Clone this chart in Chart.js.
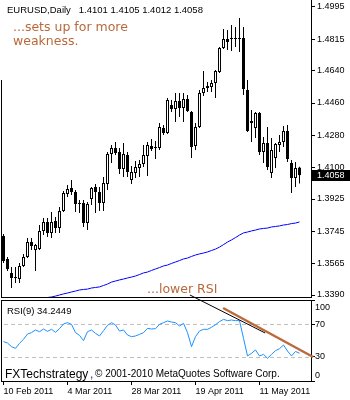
<!DOCTYPE html>
<html>
<head>
<meta charset="utf-8">
<script src="https://cdn.jsdelivr.net/npm/chart.js@4.4.0/dist/chart.umd.min.js"></script>
<style>
  body { margin: 0; background: #fff; width: 350px; height: 400px; overflow: hidden; position: relative; }
  canvas { position: absolute; left: 0; }
  #rsiChart { top: 285px; }
  #priceChart { top: 0; }
</style>
</head>
<body>
<canvas id="rsiChart" width="350" height="115"></canvas>
<canvas id="priceChart" width="350" height="298"></canvas>
<script>
// Chart data (EURUSD daily, 10 Feb 2011 - 25 May 2011)
const symbol = 'EURUSD';
const period = 'Daily';
const rsiPeriod = 9;
const dateLabels = ['10 Feb 2011', '4 Mar 2011', '28 Mar 2011', '19 Apr 2011', '11 May 2011'];
const dateTicks = [0, 16, 32, 48, 64];
const priceTicks = [1.4995, 1.4815, 1.4640, 1.4460, 1.4280, 1.4100, 1.3925, 1.3745, 1.3565, 1.3390];
const rsiTicks = [100, 70, 30, 0];
const rsiLevels = [70, 30];

const opens = [
  1.3719, 1.3591, 1.3513, 1.3485, 1.3479, 1.3552, 1.3602, 1.3685, 1.3641, 1.3646,
  1.3747, 1.3797, 1.3736, 1.3802, 1.3763, 1.3858, 1.3953, 1.3986, 1.3964, 1.3903,
  1.3903, 1.3791, 1.3925, 1.3992, 1.3964, 1.3903, 1.4009, 1.4176, 1.4209, 1.4187,
  1.4092, 1.4170, 1.4031, 1.4070, 1.4098, 1.4120, 1.4165, 1.4220, 1.4209, 1.4209,
  1.4321, 1.4293, 1.4449, 1.4427, 1.4471, 1.4432, 1.4482, 1.4410, 1.4220, 1.4326,
  1.4516, 1.4544, 1.4549, 1.4571, 1.4633, 1.4767, 1.4817, 1.4817, 1.4822, 1.4822,
  1.4822, 1.4532, 1.4360, 1.4321, 1.4404, 1.4187, 1.4237, 1.4070, 1.4153, 1.4226,
  1.4243, 1.4304, 1.4126, 1.4042, 1.4101
];
const highs = [
  1.3730, 1.3602, 1.3546, 1.3546, 1.3568, 1.3619, 1.3708, 1.3708, 1.3674, 1.3780,
  1.3819, 1.3819, 1.3853, 1.3825, 1.3880, 1.3970, 1.4003, 1.4031, 1.3975, 1.3919,
  1.3919, 1.3908, 1.3992, 1.4009, 1.3992, 1.4048, 1.4187, 1.4226, 1.4243, 1.4209,
  1.4237, 1.4187, 1.4109, 1.4137, 1.4142, 1.4226, 1.4243, 1.4259, 1.4248, 1.4349,
  1.4337, 1.4488, 1.4477, 1.4516, 1.4516, 1.4516, 1.4505, 1.4415, 1.4349, 1.4532,
  1.4638, 1.4577, 1.4588, 1.4644, 1.4772, 1.4872, 1.4867, 1.4895, 1.4884, 1.4934,
  1.4884, 1.4588, 1.4421, 1.4410, 1.4410, 1.4271, 1.4326, 1.4265, 1.4237, 1.4282,
  1.4332, 1.4337, 1.4142, 1.4131, 1.4105
];
const lows = [
  1.3568, 1.3524, 1.3429, 1.3457, 1.3457, 1.3546, 1.3596, 1.3641, 1.3524, 1.3641,
  1.3724, 1.3713, 1.3708, 1.3736, 1.3736, 1.3853, 1.3936, 1.3947, 1.3853, 1.3847,
  1.3769, 1.3752, 1.3892, 1.3847, 1.3858, 1.3858, 1.3975, 1.4126, 1.4170, 1.4064,
  1.4048, 1.4048, 1.4009, 1.4042, 1.4048, 1.4103, 1.4053, 1.4192, 1.4148, 1.4198,
  1.4282, 1.4287, 1.4410, 1.4354, 1.4382, 1.4354, 1.4410, 1.4153, 1.4198, 1.4321,
  1.4499, 1.4521, 1.4521, 1.4488, 1.4627, 1.4761, 1.4755, 1.4750, 1.4772, 1.4744,
  1.4505, 1.4298, 1.4243, 1.4265, 1.4170, 1.4126, 1.4087, 1.4042, 1.4098, 1.4187,
  1.4215, 1.4131, 1.3958, 1.3992, 1.4012
];
const closes = [
  1.3579, 1.3535, 1.3485, 1.3490, 1.3552, 1.3602, 1.3685, 1.3663, 1.3669, 1.3747,
  1.3797, 1.3736, 1.3797, 1.3763, 1.3858, 1.3958, 1.3981, 1.3964, 1.3897, 1.3897,
  1.3791, 1.3897, 1.3986, 1.3964, 1.3903, 1.4014, 1.4176, 1.4209, 1.4181, 1.4092,
  1.4176, 1.4075, 1.4075, 1.4103, 1.4120, 1.4170, 1.4226, 1.4204, 1.4209, 1.4326,
  1.4293, 1.4477, 1.4427, 1.4471, 1.4432, 1.4482, 1.4415, 1.4215, 1.4326, 1.4516,
  1.4544, 1.4555, 1.4571, 1.4638, 1.4767, 1.4817, 1.4800, 1.4817, 1.4817, 1.4817,
  1.4538, 1.4304, 1.4349, 1.4404, 1.4187, 1.4237, 1.4103, 1.4198, 1.4232, 1.4243,
  1.4304, 1.4148, 1.4042, 1.4098, 1.4058
];
// moving average (blue), only visible from the 9th bar on
const ma = [
  null, null, null, null, null, null, null, null,
  1.3368, 1.3373, 1.3373, 1.3376, 1.3379, 1.3384, 1.3390, 1.3396, 1.3401, 1.3407,
  1.3412, 1.3418, 1.3421, 1.3423, 1.3429, 1.3432, 1.3435, 1.3443, 1.3451, 1.3462,
  1.3468, 1.3474, 1.3479, 1.3485, 1.3490, 1.3496, 1.3504, 1.3513, 1.3518, 1.3527,
  1.3535, 1.3543, 1.3552, 1.3557, 1.3566, 1.3574, 1.3582, 1.3591, 1.3596, 1.3605,
  1.3613, 1.3619, 1.3624, 1.3630, 1.3638, 1.3646, 1.3657, 1.3671, 1.3685, 1.3697,
  1.3710, 1.3724, 1.3736, 1.3741, 1.3747, 1.3752, 1.3758, 1.3761, 1.3763, 1.3769,
  1.3772, 1.3775, 1.3780, 1.3783, 1.3788, 1.3791, 1.3797
];
const rsi = [
  48.6, 46.9, 42.4, 40.3, 46.5, 51.4, 58.0, 59.7, 63.0, 60.9,
  64.2, 61.3, 63.8, 60.1, 64.6, 70.4, 72.0, 70.0, 59.7, 56.4,
  49.8, 60.9, 63.0, 58.8, 55.6, 62.1, 68.7, 72.0, 69.1, 61.7,
  63.0, 56.8, 54.7, 55.6, 57.6, 59.7, 65.0, 64.2, 64.6, 70.0,
  72.0, 74.1, 72.8, 72.0, 67.9, 71.2, 59.7, 42.4, 54.7, 61.7,
  63.8, 63.8, 66.3, 69.5, 73.3, 76.1, 74.5, 75.3, 74.5, 74.5,
  52.7, 30.9, 34.2, 38.3, 30.9, 32.9, 28.0, 32.9, 37.4, 39.9,
  44.4, 37.0, 30.9, 36.5, 34.2449
];
// hand drawn trend lines on the RSI window: [bar index, RSI value]
const trendBlack = [[46.6, 106.2], [65.4, 59.3]];
const trendBrown = [[54.9, 90.1], [77.4, 29.6]];
const notesTop = ['...sets up for more', 'weakness.'];
const noteRsi = '...lower RSI';

// axis ranges
const xMin = -0.625, xMax = 76.875;
const priceMin = 1.33789, priceMax = 1.5034;

const axisFont = { family: 'Liberation Sans', size: 9 };
const noteColor = '#b8683a';
const last = closes.length - 1;
const idx = closes.map((c, i) => i);
const bodyColors = closes.map((c, i) => c >= opens[i] ? '#ffffff' : '#000000');

Chart.defaults.font.family = 'Liberation Sans';
Chart.defaults.color = '#000';

// frame, last price box and texts for the price window
const priceOverlay = {
  id: 'priceOverlay',
  afterDraw(chart) {
    const { ctx, chartArea: a, scales: { y } } = chart;
    ctx.save();
    ctx.strokeStyle = '#000';
    ctx.lineWidth = 1;
    ctx.beginPath();
    ctx.moveTo(a.left + 0.5, 80);
    ctx.lineTo(a.left + 0.5, a.bottom + 1);
    ctx.moveTo(a.left, a.bottom + 0.5);
    ctx.lineTo(a.right, a.bottom + 0.5);
    ctx.stroke();

    const py = Math.round(y.getPixelForValue(closes[last]));
    ctx.fillStyle = '#000';
    ctx.fillRect(a.right + 1, py - 5, 39, 11);
    ctx.font = '9px "Liberation Sans"';
    ctx.textBaseline = 'middle';
    ctx.fillStyle = '#fff';
    ctx.fillText(closes[last].toFixed(4), a.right + 6, py + 0.5);

    ctx.fillStyle = '#000';
    ctx.font = '9.5px "Liberation Sans"';
    const ohlc = [opens[last], highs[last], lows[last], closes[last]].map(v => v.toFixed(4)).join(' ');
    ctx.fillText(symbol + ',' + period + '   ' + ohlc, 7, 10.5);

    ctx.fillStyle = noteColor;
    ctx.font = '12.5px "DejaVu Sans"';
    ctx.textBaseline = 'alphabetic';
    ctx.fillText(notesTop[0], 13, 30.5);
    ctx.fillText(notesTop[1], 13, 44.5);
    ctx.fillText(noteRsi, 147, 292.5);
    ctx.restore();
  }
};

// frame, levels, labels and trend lines for the RSI window
const rsiOverlay = {
  id: 'rsiOverlay',
  beforeDatasetsDraw(chart) {
    const { ctx, chartArea: a, scales: { y } } = chart;
    ctx.save();
    ctx.strokeStyle = '#c0c0c0';
    ctx.lineWidth = 1;
    ctx.setLineDash([4, 3]);
    rsiLevels.forEach(v => {
      const py = Math.round(y.getPixelForValue(v)) + 0.5;
      ctx.beginPath();
      ctx.moveTo(a.left + 3, py);
      ctx.lineTo(a.right, py);
      ctx.stroke();
    });
    ctx.restore();
  },
  afterDraw(chart) {
    const { ctx, chartArea: a, scales: { x, y } } = chart;
    ctx.save();
    ctx.strokeStyle = '#000';
    ctx.lineWidth = 1;
    ctx.beginPath();
    ctx.moveTo(a.left, a.top + 0.5);
    ctx.lineTo(a.right, a.top + 0.5);
    ctx.moveTo(a.left + 0.5, a.top);
    ctx.lineTo(a.left + 0.5, a.bottom);
    ctx.stroke();

    ctx.font = '9px "Liberation Sans"';
    ctx.textBaseline = 'middle';
    ctx.fillStyle = '#000';
    rsiTicks.forEach(v => {
      const py = Math.min(Math.max(y.getPixelForValue(v), a.top + 8), a.bottom - 5);
      ctx.fillText(String(v), a.right + 4, py);
    });
    ctx.font = '9.5px "Liberation Sans"';
    ctx.fillText('RSI(' + rsiPeriod + ') ' + rsi[last].toFixed(4), 7, a.top + 11);

    ctx.textBaseline = 'alphabetic';
    ctx.font = '12px "Liberation Sans"';
    ctx.fillText('FXTechstrategy', 5, a.bottom - 3.5);
    ctx.fillStyle = '#2040a0';
    ctx.fillText(',', 90, a.bottom - 3.5);
    ctx.fillStyle = '#000';
    ctx.font = '10px "Liberation Sans"';
    ctx.fillText('\u00a9 2001-2010 MetaQuotes Software Corp.', 95, a.bottom - 4);

    const drawTrend = (pts, color, width) => {
      ctx.strokeStyle = color;
      ctx.lineWidth = width;
      ctx.beginPath();
      ctx.moveTo(x.getPixelForValue(pts[0][0]), y.getPixelForValue(pts[0][1]));
      ctx.lineTo(x.getPixelForValue(pts[1][0]), y.getPixelForValue(pts[1][1]));
      ctx.stroke();
    };
    drawTrend(trendBlack, '#000', 1);
    drawTrend(trendBrown, '#bb6a3c', 2.5);
    ctx.restore();
  }
};

new Chart(document.getElementById('priceChart'), {
  type: 'bar',
  data: {
    datasets: [
      {
        data: idx.map(i => ({ x: i, y: [opens[i], closes[i]] })),
        backgroundColor: bodyColors,
        borderColor: '#000',
        borderWidth: 1,
        borderSkipped: false,
        barThickness: 3,
        minBarLength: 1,
        inflateAmount: 0,
        grouped: false,
        order: 0
      },
      {
        data: idx.map(i => ({ x: i, y: [lows[i], highs[i]] })),
        backgroundColor: '#000',
        borderWidth: 0,
        barThickness: 1,
        inflateAmount: 0,
        grouped: false,
        order: 1
      },
      {
        type: 'line',
        data: ma.map((v, i) => ({ x: i, y: v })),
        borderColor: '#0000ff',
        borderWidth: 1,
        pointRadius: 0,
        tension: 0,
        order: 2
      }
    ]
  },
  options: {
    responsive: false,
    animation: false,
    events: [],
    layout: { padding: { left: 1, right: 0, top: 0, bottom: 1 } },
    plugins: { legend: { display: false }, tooltip: { enabled: false } },
    scales: {
      x: { type: 'linear', min: xMin, max: xMax, offset: false, display: false },
      y: {
        position: 'right',
        min: priceMin,
        max: priceMax,
        afterBuildTicks: s => { s.ticks = priceTicks.map(v => ({ value: v })); },
        afterFit: s => { s.width = 39; s.paddingTop = 0; s.paddingBottom = 0; },
        ticks: { callback: v => v.toFixed(4), autoSkip: false, padding: 2, color: '#000', font: axisFont },
        grid: { drawOnChartArea: false, tickLength: 4, color: '#000' },
        border: { color: '#000' }
      }
    }
  },
  plugins: [priceOverlay]
});

new Chart(document.getElementById('rsiChart'), {
  type: 'line',
  data: {
    datasets: [{
      data: rsi.map((v, i) => ({ x: i, y: v })),
      borderColor: '#1e90ff',
      borderWidth: 1,
      pointRadius: 0,
      tension: 0
    }]
  },
  options: {
    responsive: false,
    animation: false,
    events: [],
    layout: { padding: { left: 1, right: 0, top: 15, bottom: 0 } },
    plugins: { legend: { display: false }, tooltip: { enabled: false } },
    scales: {
      x: {
        type: 'linear',
        min: xMin,
        max: xMax,
        offset: false,
        afterBuildTicks: s => { s.ticks = dateTicks.map(v => ({ value: v })); },
        afterFit: s => { s.height = 19; s.paddingLeft = 0; s.paddingRight = 0; },
        ticks: {
          callback: v => dateLabels[dateTicks.indexOf(v)],
          autoSkip: false, maxRotation: 0, minRotation: 0,
          align: 'start', padding: 1, color: '#000', font: axisFont
        },
        grid: { drawOnChartArea: false, tickLength: 4, color: '#000' },
        border: { color: '#000' }
      },
      y: {
        position: 'right',
        min: 0,
        max: 100,
        afterBuildTicks: s => { s.ticks = rsiTicks.map(v => ({ value: v })); },
        afterFit: s => { s.width = 39; s.paddingTop = 0; s.paddingBottom = 0; },
        ticks: { display: false },
        grid: { drawOnChartArea: false, tickLength: 4, color: '#000' },
        border: { color: '#000' }
      }
    }
  },
  plugins: [rsiOverlay]
});
</script>
</body>
</html>
